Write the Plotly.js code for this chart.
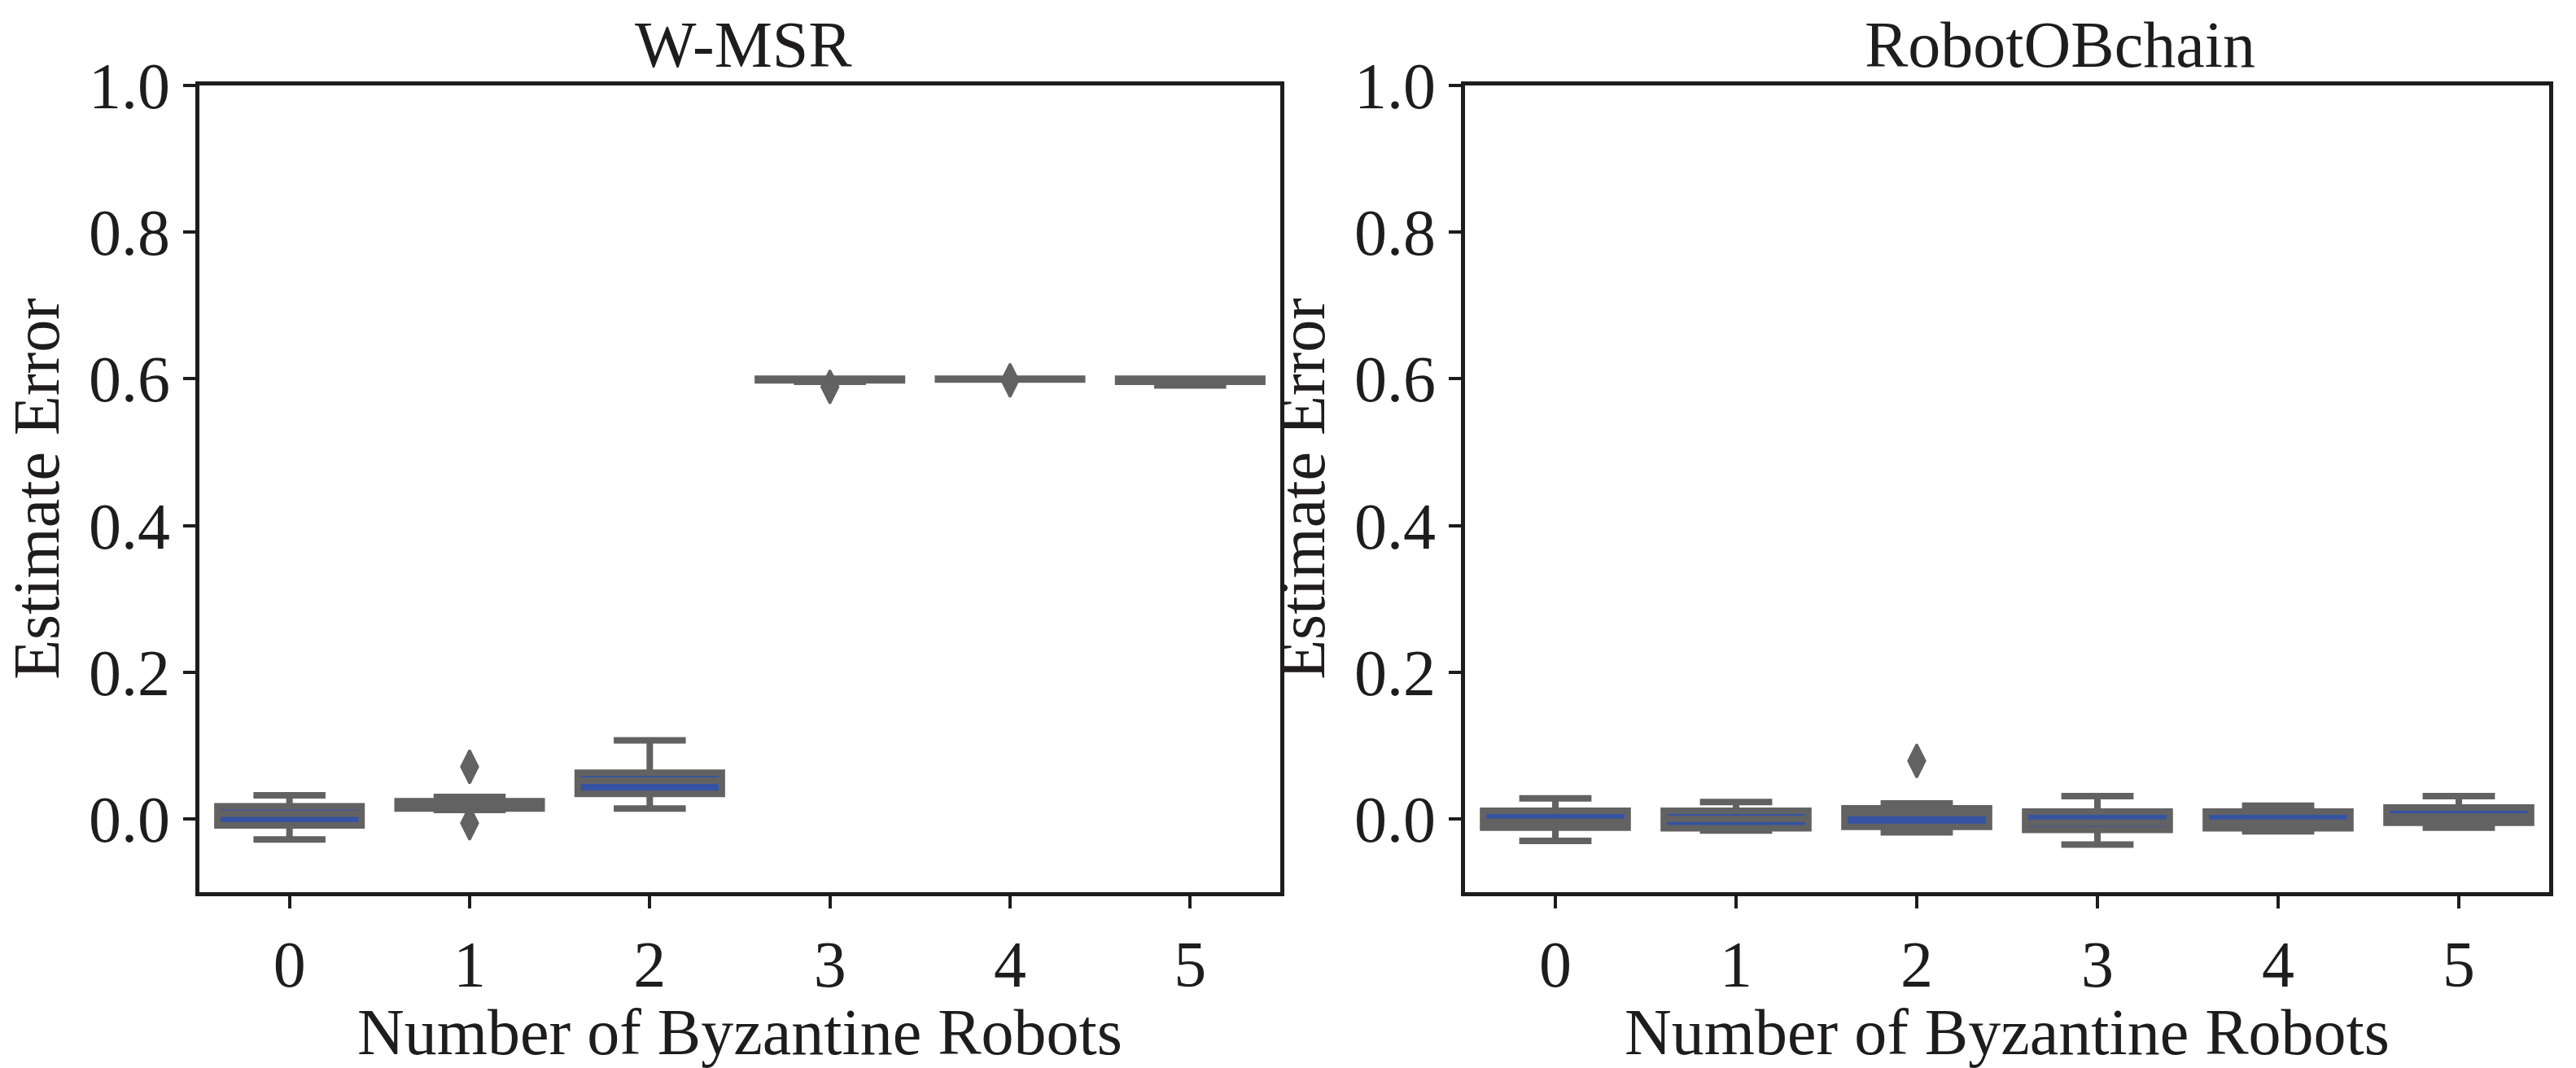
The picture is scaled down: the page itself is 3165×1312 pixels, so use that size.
<!DOCTYPE html>
<html>
<head>
<meta charset="utf-8">
<script src="https://cdn.plot.ly/plotly-3.0.1.min.js"></script>
<style>html,body{margin:0;padding:0;background:#fff;}#chart{width:3165px;height:1312px;}</style>
</head>
<body>
<div id="chart"></div>
<script>
// Categories: number of Byzantine robots
const categories = [0, 1, 2, 3, 4, 5];
const tickLabels = ["0", "1", "2", "3", "4", "5"];

// W-MSR box statistics (Estimate Error)
const wmsrLower  = [-0.028, 0.012, 0.014, 0.596, 0.599, 0.591];
const wmsrQ1     = [-0.009, 0.014, 0.034, 0.598, 0.599, 0.596];
const wmsrMedian = [0.007, 0.016, 0.052, 0.599, 0.600, 0.598];
const wmsrQ3     = [0.017, 0.024, 0.063, 0.600, 0.600, 0.600];
const wmsrUpper  = [0.032, 0.030, 0.107, 0.600, 0.600, 0.600];
const wmsrOutlierX = [1, 1, 3, 4];
const wmsrOutlierY = [0.071, -0.006, 0.589, 0.598];

// RobotOBchain box statistics (Estimate Error)
const robotLower  = [-0.030, -0.016, -0.0185, -0.035, -0.017, -0.012];
const robotQ1     = [-0.012, -0.013, -0.011, -0.015, -0.013, -0.0055];
const robotMedian = [-0.004, 0.000, 0.008, -0.0055, -0.0055, 0.0033];
const robotQ3     = [0.011, 0.011, 0.0144, 0.010, 0.010, 0.0155];
const robotUpper  = [0.028, 0.023, 0.021, 0.031, 0.018, 0.031];
const robotOutlierX = [2];
const robotOutlierY = [0.079];

const yTicks = [0.0, 0.2, 0.4, 0.6, 0.8, 1.0];

const panelTitles = ["W-MSR", "RobotOBchain"];
const xTitle = "Number of Byzantine Robots";
const yTitle = "Estimate Error";

const GRAY = "#626262";
const BLUE = "#3453a4";
const INK = "#1f1c1d";
const FONT = "Liberation Serif, Times New Roman, serif";

function boxTrace(q1, med, q3, lo, hi, xa, ya) {
  return {
    type: "box", x: categories, q1: q1, median: med, q3: q3,
    lowerfence: lo, upperfence: hi,
    boxpoints: false, width: 0.8, whiskerwidth: 0.5,
    fillcolor: BLUE, line: {color: GRAY, width: 8},
    xaxis: xa, yaxis: ya, showlegend: false, hoverinfo: "skip"
  };
}
function outlierTrace(xs, ys, xa, ya) {
  return {
    type: "scatter", mode: "markers", x: xs, y: ys,
    marker: {symbol: "diamond-tall", size: 29, color: GRAY, line: {color: GRAY, width: 3}},
    xaxis: xa, yaxis: ya, showlegend: false, hoverinfo: "skip"
  };
}

const data = [
  boxTrace(wmsrQ1, wmsrMedian, wmsrQ3, wmsrLower, wmsrUpper, "x", "y"),
  outlierTrace(wmsrOutlierX, wmsrOutlierY, "x", "y"),
  boxTrace(robotQ1, robotMedian, robotQ3, robotLower, robotUpper, "x2", "y2"),
  outlierTrace(robotOutlierX, robotOutlierY, "x2", "y2")
];

const W = 3165, H = 1312;
const yDom = [1 - 1096 / H, 1 - 105 / H];

function xAxis(dom, anchor) {
  return {
    domain: dom, anchor: anchor, range: [-0.5, 5.5],
    tickmode: "array", tickvals: categories, ticktext: tickLabels,
    ticks: "outside", ticklen: 15, tickwidth: 4, tickcolor: INK,
    showline: true, linewidth: 5, linecolor: INK, mirror: true,
    showgrid: false, zeroline: false,
    tickfont: {family: FONT, size: 80, color: INK},
    title: {text: xTitle, font: {family: FONT, size: 80, color: INK}, standoff: 0}
  };
}
function yAxis(anchor) {
  return {
    domain: yDom, anchor: anchor, range: [-0.1, 1.0],
    tickmode: "array", tickvals: yTicks, tickformat: ".1f",
    ticks: "outside", ticklen: 15, tickwidth: 4, tickcolor: INK,
    showline: true, linewidth: 5, linecolor: INK, mirror: true,
    showgrid: false, zeroline: false,
    tickfont: {family: FONT, size: 80, color: INK},
    title: {text: yTitle, font: {family: FONT, size: 80, color: INK}, standoff: 12}
  };
}

const layout = {
  width: W, height: H,
  margin: {l: 0, r: 0, t: 0, b: 0},
  paper_bgcolor: "#ffffff", plot_bgcolor: "#ffffff",
  xaxis: xAxis([245 / W, 1573 / W], "y"),
  yaxis: yAxis("x"),
  xaxis2: xAxis([1800 / W, 3132 / W], "y2"),
  yaxis2: yAxis("x2"),
  annotations: [
    {text: panelTitles[0], xref: "paper", yref: "paper", x: 913 / W, y: 1 - 55 / H,
     xanchor: "center", yanchor: "middle", showarrow: false, font: {family: FONT, size: 80, color: INK}},
    {text: panelTitles[1], xref: "paper", yref: "paper", x: 2531 / W, y: 1 - 55 / H,
     xanchor: "center", yanchor: "middle", showarrow: false, font: {family: FONT, size: 80, color: INK}}
  ]
};

Plotly.newPlot("chart", data, layout, {staticPlot: true, displayModeBar: false});
</script>
</body>
</html>
